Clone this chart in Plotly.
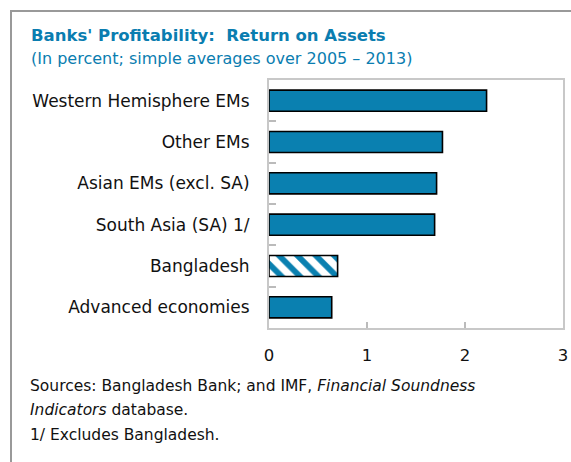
import plotly.graph_objects as go

categories = ["Western Hemisphere EMs", "Other EMs", "Asian EMs (excl. SA)",
              "South Asia (SA) 1/", "Bangladesh", "Advanced economies"]
roa_values = [2.22, 1.77, 1.71, 1.69, 0.70, 0.64]
x_ticks = [0, 1, 2, 3]

BLUE = "#0a80b0"
FONT = "DejaVu Sans"

shapes_pattern = ["\\" if c == "Bangladesh" else "" for c in categories]

fig = go.Figure()
fig.add_trace(go.Bar(
    y=categories, x=roa_values, orientation="h", width=0.51,
    marker=dict(
        color=BLUE,
        line=dict(color="black", width=1.6),
        pattern=dict(shape=shapes_pattern, fgcolor=BLUE, bgcolor="white",
                     size=13, solidity=0.45, fillmode="replace"),
    ),
    hoverinfo="skip",
))

L, R, T, B = 269, 563, 80, 328
W, H = 571, 462


def px(x):
    return (x - L) / (R - L)


def py(y):
    return (B - y) / (B - T)


fig.update_layout(
    width=W, height=H,
    margin=dict(l=L, r=W - R, t=T, b=H - B, pad=0, autoexpand=False),
    paper_bgcolor="white", plot_bgcolor="white",
    showlegend=False,
    font=dict(family=FONT, size=15, color="#111"),
    xaxis=dict(range=[0, 3], tickvals=x_ticks, ticks="inside", ticklen=6,
               tickcolor="#bbbbbb", tickwidth=1.5, showgrid=False, zeroline=False,
               showline=True, linecolor="#c8c8c8", linewidth=2, mirror=True,
               tickfont=dict(size=16.5), ticklabelstandoff=11, automargin=False),
    yaxis=dict(categoryorder="array", categoryarray=categories, autorange="reversed",
               ticks="inside", ticklen=7, tickcolor="#bbbbbb", tickwidth=1.5,
               tickson="boundaries", showgrid=False, zeroline=False,
               showline=True, linecolor="#c8c8c8", linewidth=2, mirror=True,
               tickfont=dict(size=17), ticklabelstandoff=14, automargin=False),
    shapes=[dict(type="rect", xref="paper", yref="paper",
                 x0=px(11), x1=px(580), y0=py(11), y1=py(480),
                 line=dict(color="#999999", width=2), layer="below")],
    annotations=[
        dict(text="<b>Banks' Profitability:  Return on Assets</b>", xref="paper", yref="paper",
             x=px(29), y=py(36), xanchor="left", yanchor="middle", showarrow=False,
             font=dict(size=16.5, color="#0a7db0", family=FONT)),
        dict(text="(In percent; simple averages over 2005 – 2013)", xref="paper", yref="paper",
             x=px(29), y=py(58), xanchor="left", yanchor="middle", showarrow=False,
             font=dict(size=16, color="#0a7db0", family=FONT)),
        dict(text="Sources: Bangladesh Bank; and IMF, <i>Financial Soundness</i>", xref="paper", yref="paper",
             x=px(28), y=py(386), xanchor="left", yanchor="middle", showarrow=False,
             font=dict(size=15.5, color="#111", family=FONT)),
        dict(text="<i>Indicators</i> database.", xref="paper", yref="paper",
             x=px(28), y=py(410), xanchor="left", yanchor="middle", showarrow=False,
             font=dict(size=15.5, color="#111", family=FONT)),
        dict(text="1/ Excludes Bangladesh.", xref="paper", yref="paper",
             x=px(28), y=py(435), xanchor="left", yanchor="middle", showarrow=False,
             font=dict(size=15.5, color="#111", family=FONT)),
    ],
)

fig.write_html("out.html", config={"displayModeBar": False},
               post_script="document.body.style.margin='0';")
